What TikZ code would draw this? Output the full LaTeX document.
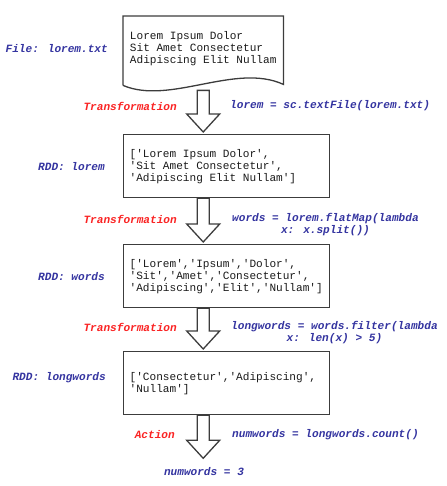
\documentclass[tikz,border=0pt]{standalone}
\usepackage{fontspec}
\newfontfamily\codefont{Liberation Mono}[Ligatures=TeXOff]
\usetikzlibrary{positioning,calc}

\definecolor{lblblue}{RGB}{52,52,160}
\definecolor{lblred}{RGB}{250,35,35}
\definecolor{boxgray}{RGB}{60,60,60}

\tikzset{
  codetext/.style={font=\codefont\fontsize{11.1}{12}\selectfont},
  rddbox/.style={codetext, draw=boxgray, line width=1.3pt, text=black!90,
    text width=194pt, align=flush left, minimum height=63pt, inner xsep=6pt, anchor=north west},
  filedoc/.style={codetext, text=black!90, align=left, minimum width=160pt,
    minimum height=64pt, inner sep=0pt, anchor=north west},
  docline/.style={draw=boxgray, line width=1.3pt},
  flowarrow/.style={draw=boxgray, line width=1.3pt, fill=white, line join=miter},
  rddlbl/.style={codetext, text=lblblue, font=\codefont\fontsize{11.1}{12}\selectfont\bfseries\itshape, inner sep=0pt},
  oplbl/.style={rddlbl, text=lblred, anchor=east},
  codelbl/.style={rddlbl, anchor=west}
}

% hollow block arrow from tail (#1) to tip (#2)
\newcommand{\blockarrow}[2]{%
  \draw[flowarrow] ($(#1)+(-6,0)$) -- ($(#2)+(-6,-18)$) -- ($(#2)+(-16.5,-18)$) -- (#2)
    -- ($(#2)+(16.5,-18)$) -- ($(#2)+(6,-18)$) -- ($(#1)+(6,0)$) -- cycle;}

\begin{document}
\begin{tikzpicture}[x=1pt, y=-1pt]
    \useasboundingbox (0,0) rectangle (446,486);

    % Input file
    \node[filedoc] (file) at (123,16) {Lorem Ipsum Dolor\\Sit Amet Consectetur\\Adipiscing Elit Nullam};
    \draw[docline] ($(file.south west)+(0,5)$) -- (file.north west) -- (file.north east)
        -- ($(file.south east)+(0,4)$)
        .. controls ($(file.south east)+(-48,-18)$) and ($(file.south west)+(47,25)$) .. ($(file.south west)+(0,5)$);
    \node[rddlbl, left=15pt of file] (filelbl) {File: lorem.txt};

    % RDDs
    \node[rddbox] (lorem) at (123,134) {['Lorem Ipsum Dolor',\\'Sit Amet Consectetur',\\'Adipiscing Elit Nullam']};
    \node[rddlbl, left=18pt of lorem] (loremlbl) {RDD: lorem};

    \node[rddbox] (words) at (123,244) {['Lorem','Ipsum','Dolor',\\'Sit','Amet','Consectetur',\\'Adipiscing','Elit','Nullam']};
    \node[rddlbl, left=18pt of words] (wordslbl) {RDD: words};

    \node[rddbox] (longwords) at (123,351) {['Consectetur','Adipiscing',\\'Nullam']};
    \node[rddlbl, left=17pt of longwords, yshift=5.5pt] (longwordslbl) {RDD: longwords};

    % Arrows
    \coordinate (a1) at ($(file.south)+(0,10)$);
    \coordinate (b1) at ($(lorem.north -| file.south)+(0,-2)$);
    \coordinate (a2) at (lorem.south -| file.south);
    \coordinate (b2) at ($(words.north -| file.south)+(0,-2)$);
    \coordinate (a3) at (words.south -| file.south);
    \coordinate (b3) at ($(longwords.north -| file.south)+(0,-2)$);
    \coordinate (a4) at (longwords.south -| file.south);
    \coordinate (b4) at ($(a4)+(0,43)$);
    \blockarrow{a1}{b1}
    \blockarrow{a2}{b2}
    \blockarrow{a3}{b3}
    \blockarrow{a4}{b4}

    % Operations
    \node[oplbl] (op1) at (177,106) {Transformation};
    \node[codelbl] (cmd1) at (230,106) {lorem = sc.textFile(lorem.txt)};
    \node[oplbl] (op2) at (177,219) {Transformation};
    \node[codelbl, align=center] (cmd2) at (232,225) {words = lorem.flatMap(lambda\\x: x.split())};
    \node[oplbl] (op3) at (177,327) {Transformation};
    \node[codelbl, align=center] (cmd3) at (231,333) {longwords = words.filter(lambda\\x: len(x) > 5)};
    \node[oplbl] (op4) at (175,435) {Action};
    \node[codelbl] (cmd4) at (232,435) {numwords = longwords.count()};

    % Result
    \node[rddlbl] (result) at (204,472) {numwords = 3};
\end{tikzpicture}
\end{document}
